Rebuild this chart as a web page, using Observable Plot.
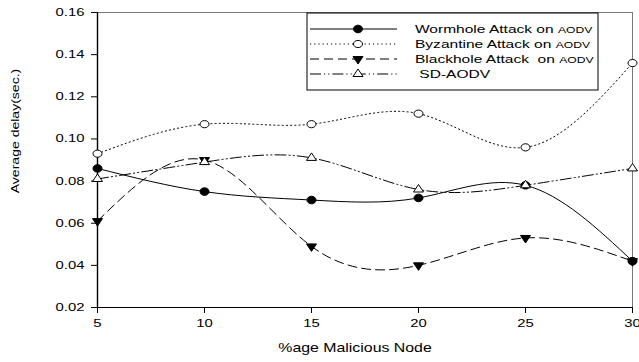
<!DOCTYPE html>
<html>
<head>
<meta charset="utf-8">
<script src="https://cdn.jsdelivr.net/npm/d3@7"></script>
<script src="https://cdn.jsdelivr.net/npm/@observablehq/plot@0.6"></script>
<style>
  html, body { margin: 0; padding: 0; background: #fff; }
  #chart { width: 639px; height: 362px; }
  #chart svg { font-family: Arial, "Liberation Sans", sans-serif; }
</style>
</head>
<body>
<div id="chart"></div>
<script>
// Percentage of malicious nodes in the network
const maliciousPct = [5, 10, 15, 20, 25, 30];

// Average end-to-end delay (seconds) per scenario
const wormhole  = [0.086, 0.075, 0.071, 0.072, 0.078, 0.042];
const byzantine = [0.093, 0.107, 0.107, 0.112, 0.096, 0.136];
const blackhole = [0.061, 0.090, 0.049, 0.040, 0.053, 0.042];
const sdAodv    = [0.081, 0.089, 0.091, 0.076, 0.078, 0.086];

const xTicks = [5, 10, 15, 20, 25, 30];
const yTicks = [0.02, 0.04, 0.06, 0.08, 0.10, 0.12, 0.14, 0.16];

const seriesNames = ["Wormhole Attack on ", "Byzantine Attack on ", "Blackhole Attack  on ", " SD-AODV"];
const seriesSuffix = ["AODV", "AODV", "AODV", ""];

// Markers are slightly wider than tall, as in the original figure.
function ellipse(rx, ry) {
  const k = 0.5523;
  return {
    draw(c) {
      c.moveTo(rx, 0);
      c.bezierCurveTo(rx, ry * k, rx * k, ry, 0, ry);
      c.bezierCurveTo(-rx * k, ry, -rx, ry * k, -rx, 0);
      c.bezierCurveTo(-rx, -ry * k, -rx * k, -ry, 0, -ry);
      c.bezierCurveTo(rx * k, -ry, rx, -ry * k, rx, 0);
      c.closePath();
    }
  };
}
function triangle(w, h, down) {
  const s = down ? -1 : 1;
  return {
    draw(c) {
      c.moveTo(0, -s * h * 2 / 3);
      c.lineTo(w / 2, s * h / 3);
      c.lineTo(-w / 2, s * h / 3);
      c.closePath();
    }
  };
}

const styles = [
  {values: wormhole,  dash: null,               symbol: ellipse(4.5, 3.8),      fill: "black"},
  {values: byzantine, dash: "1.2,3",            symbol: ellipse(4.5, 3.6),      fill: "white"},
  {values: blackhole, dash: "9,5",              symbol: triangle(10, 7.5, true), fill: "black"},
  {values: sdAodv,    dash: "11,3,1.2,3,1.2,3", symbol: triangle(10, 7.5, false), fill: "white"}
];

const rows = styles.map(s => maliciousPct.map((x, i) => ({x, y: s.values[i]})));

const marks = [
  Plot.frame({stroke: "#777", strokeWidth: 1}),
  Plot.ruleX([5], {stroke: "black", strokeWidth: 1.4}),
  Plot.ruleY([0.02], {stroke: "black", strokeWidth: 1.1}),
  Plot.axisX({ticks: xTicks, tickSize: 6, tickPadding: 6, fontSize: 11, label: null, tickFormat: d => d}),
  Plot.axisY({ticks: yTicks, tickSize: 6, tickPadding: 7, fontSize: 11, label: null, tickFormat: d3.format(".2f")}),
  Plot.text(["Average delay(sec.)"], {frameAnchor: "left", textAnchor: "middle", rotate: -90, dx: -82, dy: -29, fontSize: 11.5}),
  Plot.text(["%age Malicious Node"], {frameAnchor: "bottom", textAnchor: "middle", dx: -10, dy: 44, fontSize: 13})
];

styles.forEach((s, k) => {
  marks.push(Plot.line(rows[k], {x: "x", y: "y", curve: "natural", stroke: "black", strokeWidth: 1, strokeDasharray: s.dash}));
});
styles.forEach((s, k) => {
  marks.push(Plot.dot(rows[k], {x: "x", y: "y", symbol: s.symbol, r: 4, fill: s.fill, stroke: "black", strokeWidth: 1}));
});

const chart = Plot.plot({
  width: 639,
  height: 362,
  marginLeft: 97,
  marginRight: 7,
  marginTop: 12,
  marginBottom: 55,
  style: {background: "white", color: "black", fontFamily: "Arial, 'Liberation Sans', sans-serif"},
  x: {domain: [5, 30]},
  y: {domain: [0.02, 0.16]},
  marks
});

document.getElementById("chart").appendChild(chart);

const svg = d3.select(chart);

// widen text horizontally, keeping each label's anchor point
function widen(sel, factor) {
  sel.each(function () {
    const len = this.getComputedTextLength();
    if (len > 0) {
      this.setAttribute("textLength", (len * factor).toFixed(1));
      this.setAttribute("lengthAdjust", "spacingAndGlyphs");
    }
  });
}
widen(svg.selectAll('g[aria-label="x-axis tick label"] text, g[aria-label="y-axis tick label"] text'), 1.35);
widen(svg.selectAll('g[aria-label="text"] text'), 1.22);

// legend box in the upper right of the plotting area
const legend = svg.append("g").attr("transform", "translate(307,13)");
legend.append("rect")
  .attr("width", 291).attr("height", 77)
  .attr("fill", "white").attr("stroke", "black").attr("stroke-width", 1);

const rowY = [16, 31, 46, 61];
styles.forEach((s, k) => {
  const g = legend.append("g").attr("transform", `translate(0,${rowY[k]})`);
  g.append("line")
    .attr("x1", 3).attr("x2", 90).attr("y1", 0).attr("y2", 0)
    .attr("stroke", "black").attr("stroke-width", 1)
    .attr("stroke-dasharray", s.dash);
  g.append("path")
    .attr("transform", "translate(51,0)")
    .attr("d", d3.symbol(s.symbol)())
    .attr("fill", s.fill).attr("stroke", "black").attr("stroke-width", 1);
  const t = g.append("text")
    .attr("x", 108).attr("y", 0).attr("dy", "0.35em")
    .attr("text-anchor", "start")
    .attr("font-size", 11.5).attr("fill", "black")
    .attr("xml:space", "preserve").style("white-space", "pre");
  t.append("tspan").text(seriesNames[k]);
  if (seriesSuffix[k]) t.append("tspan").attr("font-size", 9).text(seriesSuffix[k]);
  widen(t, 1.35);
});
</script>
</body>
</html>
